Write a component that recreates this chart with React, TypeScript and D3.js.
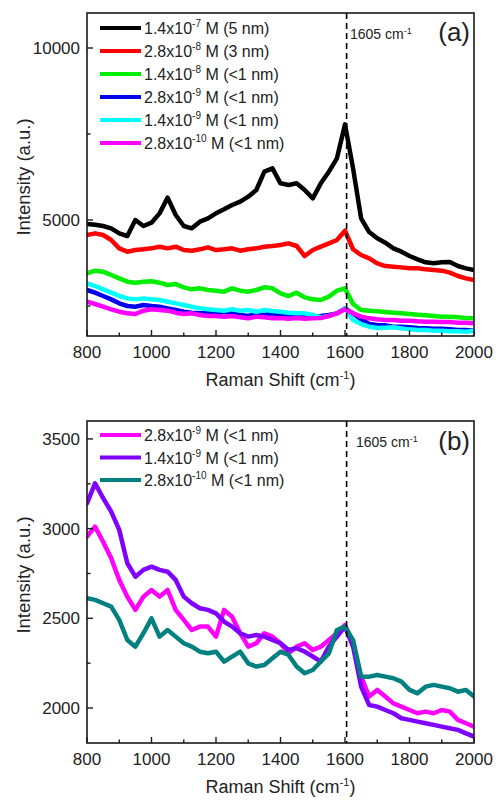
import React from 'react';
import * as d3 from 'd3';

const FONT = 'Arial, "Liberation Sans", Helvetica, sans-serif';

// Raman shift grid (cm-1)
const shift = [800, 825, 850, 875, 900, 925, 950, 975, 1000, 1025, 1050, 1075, 1100, 1125, 1150, 1175, 1200, 1225, 1250, 1275, 1300, 1325, 1350, 1375, 1400, 1425, 1450, 1475, 1500, 1525, 1550, 1575, 1600, 1625, 1650, 1675, 1700, 1725, 1750, 1775, 1800, 1825, 1850, 1875, 1900, 1925, 1950, 1975, 2000];

// Panel (a)
const a_1p4e7 = [4883, 4864, 4825, 4757, 4612, 4535, 5000, 4825, 4922, 5193, 5650, 5145, 4825, 4757, 4951, 5048, 5193, 5310, 5436, 5532, 5678, 5872, 6405, 6501, 6066, 6017, 6066, 5872, 5630, 6066, 6405, 6792, 7780, 6500, 5050, 4650, 4467, 4341, 4176, 4079, 3953, 3856, 3769, 3740, 3769, 3779, 3662, 3595, 3546];
const a_2p8e8 = [4564, 4612, 4564, 4418, 4176, 4079, 4127, 4147, 4176, 4224, 4176, 4224, 4127, 4108, 4147, 4205, 4127, 4147, 4176, 4108, 4147, 4176, 4224, 4244, 4273, 4321, 4244, 3953, 4127, 4224, 4321, 4418, 4690, 4150, 3982, 3885, 3740, 3662, 3643, 3623, 3595, 3595, 3565, 3546, 3527, 3469, 3372, 3304, 3255];
const a_1p4e8 = [3449, 3527, 3498, 3401, 3304, 3207, 3178, 3207, 3220, 3178, 3110, 3139, 3042, 2984, 3013, 2965, 2945, 2916, 3013, 2945, 2916, 2965, 3042, 3013, 2868, 2790, 2887, 2751, 2693, 2674, 2771, 2945, 3013, 2558, 2383, 2364, 2345, 2325, 2306, 2286, 2267, 2248, 2228, 2209, 2190, 2190, 2170, 2151, 2141];
const a_2p8e9 = [2965, 2887, 2790, 2693, 2577, 2500, 2480, 2529, 2500, 2480, 2432, 2383, 2335, 2306, 2286, 2286, 2267, 2335, 2286, 2238, 2209, 2267, 2238, 2286, 2238, 2209, 2190, 2170, 2190, 2209, 2238, 2286, 2432, 2286, 2112, 1976, 1947, 1937, 1899, 1899, 1880, 1860, 1850, 1841, 1841, 1821, 1802, 1802, 1783];
const a_1p4e9 = [3158, 3081, 2984, 2887, 2790, 2722, 2693, 2722, 2693, 2674, 2625, 2577, 2529, 2480, 2432, 2403, 2383, 2364, 2403, 2364, 2383, 2335, 2383, 2354, 2335, 2306, 2286, 2286, 2238, 2170, 2209, 2286, 2432, 2092, 1976, 1899, 1860, 1870, 1880, 1850, 1821, 1802, 1802, 1783, 1783, 1763, 1763, 1753, 1783];
const a_2p8e10 = [2626, 2558, 2480, 2403, 2335, 2286, 2267, 2364, 2403, 2383, 2364, 2306, 2267, 2286, 2238, 2209, 2209, 2190, 2209, 2170, 2141, 2190, 2170, 2141, 2151, 2132, 2151, 2132, 2141, 2151, 2209, 2286, 2403, 2286, 2190, 2141, 2112, 2092, 2092, 2073, 2073, 2054, 2044, 2044, 2034, 2034, 2015, 2015, 1996];

// Panel (b)
const b_2p8e9 = [2955, 3011, 2927, 2835, 2714, 2621, 2547, 2621, 2658, 2621, 2658, 2547, 2491, 2435, 2454, 2454, 2398, 2547, 2509, 2417, 2342, 2361, 2417, 2398, 2361, 2305, 2342, 2361, 2324, 2342, 2379, 2417, 2463, 2361, 2175, 2064, 2101, 2064, 2026, 2008, 1989, 1971, 1980, 1971, 1989, 1980, 1934, 1915, 1896];
const b_1p4e9 = [3141, 3253, 3170, 3095, 2993, 2807, 2732, 2770, 2788, 2770, 2760, 2714, 2621, 2584, 2556, 2547, 2528, 2482, 2454, 2417, 2398, 2407, 2398, 2379, 2361, 2324, 2333, 2314, 2287, 2259, 2342, 2398, 2454, 2342, 2119, 2017, 2008, 1989, 1971, 1943, 1934, 1924, 1915, 1906, 1896, 1887, 1878, 1859, 1841];
const b_2p8e10 = [2612, 2603, 2584, 2565, 2491, 2379, 2342, 2417, 2500, 2398, 2435, 2398, 2361, 2342, 2314, 2305, 2314, 2259, 2287, 2314, 2249, 2231, 2240, 2277, 2314, 2296, 2231, 2194, 2212, 2259, 2305, 2435, 2454, 2379, 2175, 2175, 2184, 2175, 2166, 2147, 2101, 2082, 2119, 2129, 2119, 2110, 2091, 2101, 2064];

const xMajor = [800, 1000, 1200, 1400, 1600, 1800, 2000];
const xMinor = [900, 1100, 1300, 1500, 1700, 1900];
const aYMajor = [5000, 10000];
const aYMinor = [2500, 7500];
const bYMajor = [2000, 2500, 3000, 3500];
const bYMinor = [2250, 2750, 3250];

const marker = 1605;

type Series = { base: string; exp: string; rest: string; color: string; values: number[] };

const seriesA: Series[] = [
  { base: '1.4x10', exp: '-7', rest: ' M (5 nm)', color: '#000000', values: a_1p4e7 },
  { base: '2.8x10', exp: '-8', rest: ' M (3 nm)', color: '#ff0000', values: a_2p8e8 },
  { base: '1.4x10', exp: '-8', rest: ' M (<1 nm)', color: '#00ee00', values: a_1p4e8 },
  { base: '2.8x10', exp: '-9', rest: ' M (<1 nm)', color: '#0000ee', values: a_2p8e9 },
  { base: '1.4x10', exp: '-9', rest: ' M (<1 nm)', color: '#00ffff', values: a_1p4e9 },
  { base: '2.8x10', exp: '-10', rest: ' M (<1 nm)', color: '#ff00ff', values: a_2p8e10 },
];

const seriesB: Series[] = [
  { base: '2.8x10', exp: '-9', rest: ' M (<1 nm)', color: '#ff00ff', values: b_2p8e9 },
  { base: '1.4x10', exp: '-9', rest: ' M (<1 nm)', color: '#8000ff', values: b_1p4e9 },
  { base: '2.8x10', exp: '-10', rest: ' M (<1 nm)', color: '#008080', values: b_2p8e10 },
];

type PanelProps = {
  id: string;
  top: number;
  bottom: number;
  yDomain: [number, number];
  yMajor: number[];
  yMinor: number[];
  series: Series[];
  tag: string;
  legendY: number;
  legendStep: number;
  markerLabelX: number;
  markerLabelY: number;
  tagY: number;
  yTitleY: number;
};

function Panel(p: PanelProps) {
  const left = 87;
  const right = 474;
  const x = d3.scaleLinear().domain([800, 2000]).range([left, right]);
  const y = d3.scaleLinear().domain(p.yDomain).range([p.bottom, p.top]);
  const line = d3
    .line<number>()
    .x((_, i) => x(shift[i]))
    .y((d) => y(d));
  const axisColor = '#1a1a1a';
  return (
    <g>
      <defs>
        <clipPath id={`clip-${p.id}`}>
          <rect x={left} y={p.top} width={right - left} height={p.bottom - p.top} />
        </clipPath>
      </defs>
      <g clipPath={`url(#clip-${p.id})`}>
        {p.series.map((s, i) => (
          <path
            key={i}
            d={line(s.values) || ''}
            fill="none"
            stroke={s.color}
            strokeWidth={4.5}
            strokeLinejoin="round"
            strokeLinecap="round"
          />
        ))}
      </g>
      <line
        x1={x(marker)}
        x2={x(marker)}
        y1={p.top}
        y2={p.bottom}
        stroke="#000"
        strokeWidth={1.6}
        strokeDasharray="6,4"
      />
      <rect x={left} y={p.top} width={right - left} height={p.bottom - p.top} fill="none" stroke={axisColor} strokeWidth={1.6} />
      {xMajor.map((v) => (
        <g key={`xm${v}`}>
          <line x1={x(v)} x2={x(v)} y1={p.bottom} y2={p.bottom - 6} stroke={axisColor} strokeWidth={1.4} />
          <text x={x(v)} y={p.bottom + 22} textAnchor="middle" fontSize={17} fontFamily={FONT} fill="#222">
            {v}
          </text>
        </g>
      ))}
      {xMinor.map((v) => (
        <line key={`xn${v}`} x1={x(v)} x2={x(v)} y1={p.bottom} y2={p.bottom - 3.5} stroke={axisColor} strokeWidth={1.4} />
      ))}
      {p.yMajor.map((v) => (
        <g key={`ym${v}`}>
          <line x1={left} x2={left + 6} y1={y(v)} y2={y(v)} stroke={axisColor} strokeWidth={1.4} />
          <text x={left - 7} y={y(v) + 6} textAnchor="end" fontSize={17} fontFamily={FONT} fill="#222">
            {v}
          </text>
        </g>
      ))}
      {p.yMinor.map((v) => (
        <line key={`yn${v}`} x1={left} x2={left + 3.5} y1={y(v)} y2={y(v)} stroke={axisColor} strokeWidth={1.4} />
      ))}
      <text
        transform={`translate(30,${p.yTitleY}) rotate(-90)`}
        textAnchor="middle"
        fontSize={18.5}
        fontFamily={FONT}
        fill="#222"
      >
        Intensity (a.u.)
      </text>
      <text x={(left + right) / 2} y={p.bottom + 50} textAnchor="middle" fontSize={18} fontFamily={FONT} fill="#222">
        Raman Shift (cm
        <tspan fontSize={11} dy={-7}>-1</tspan>
        <tspan dy={7}>)</tspan>
      </text>
      {p.series.map((s, i) => {
        const cy = p.legendY + i * p.legendStep;
        return (
          <g key={`lg${i}`}>
            <line x1={100} x2={141} y1={cy} y2={cy} stroke={s.color} strokeWidth={4} />
            <text x={144} y={cy + 6} fontSize={16} fontFamily={FONT} fill="#222">
              {s.base}
              <tspan fontSize={10} dy={-7}>{s.exp}</tspan>
              <tspan dy={7}>{s.rest}</tspan>
            </text>
          </g>
        );
      })}
      <text x={p.markerLabelX} y={p.markerLabelY} fontSize={14} fontFamily={FONT} fill="#222">
        1605 cm
        <tspan fontSize={9} dy={-5}>-1</tspan>
      </text>
      <text x={470} y={p.tagY} textAnchor="end" fontSize={26} fontFamily={FONT} fill="#222">
        {p.tag}
      </text>
    </g>
  );
}

export default function App() {
  return (
    <svg
      width={497}
      height={800}
      viewBox="0 0 497 800"
      style={{ position: 'absolute', left: 0, top: 0, background: '#fff' }}
    >
      <rect x={0} y={0} width={497} height={800} fill="#fff" />
      <Panel
        id="a"
        top={13}
        bottom={336}
        yDomain={[1628, 11017]}
        yMajor={aYMajor}
        yMinor={aYMinor}
        series={seriesA}
        tag="(a)"
        legendY={28}
        legendStep={23}
        markerLabelX={350}
        markerLabelY={39}
        tagY={41}
        yTitleY={177}
      />
      <Panel
        id="b"
        top={421}
        bottom={743}
        yDomain={[1805, 3600]}
        yMajor={bYMajor}
        yMinor={bYMinor}
        series={seriesB}
        tag="(b)"
        legendY={435}
        legendStep={22.5}
        markerLabelX={356}
        markerLabelY={447}
        tagY={450}
        yTitleY={575}
      />
    </svg>
  );
}
